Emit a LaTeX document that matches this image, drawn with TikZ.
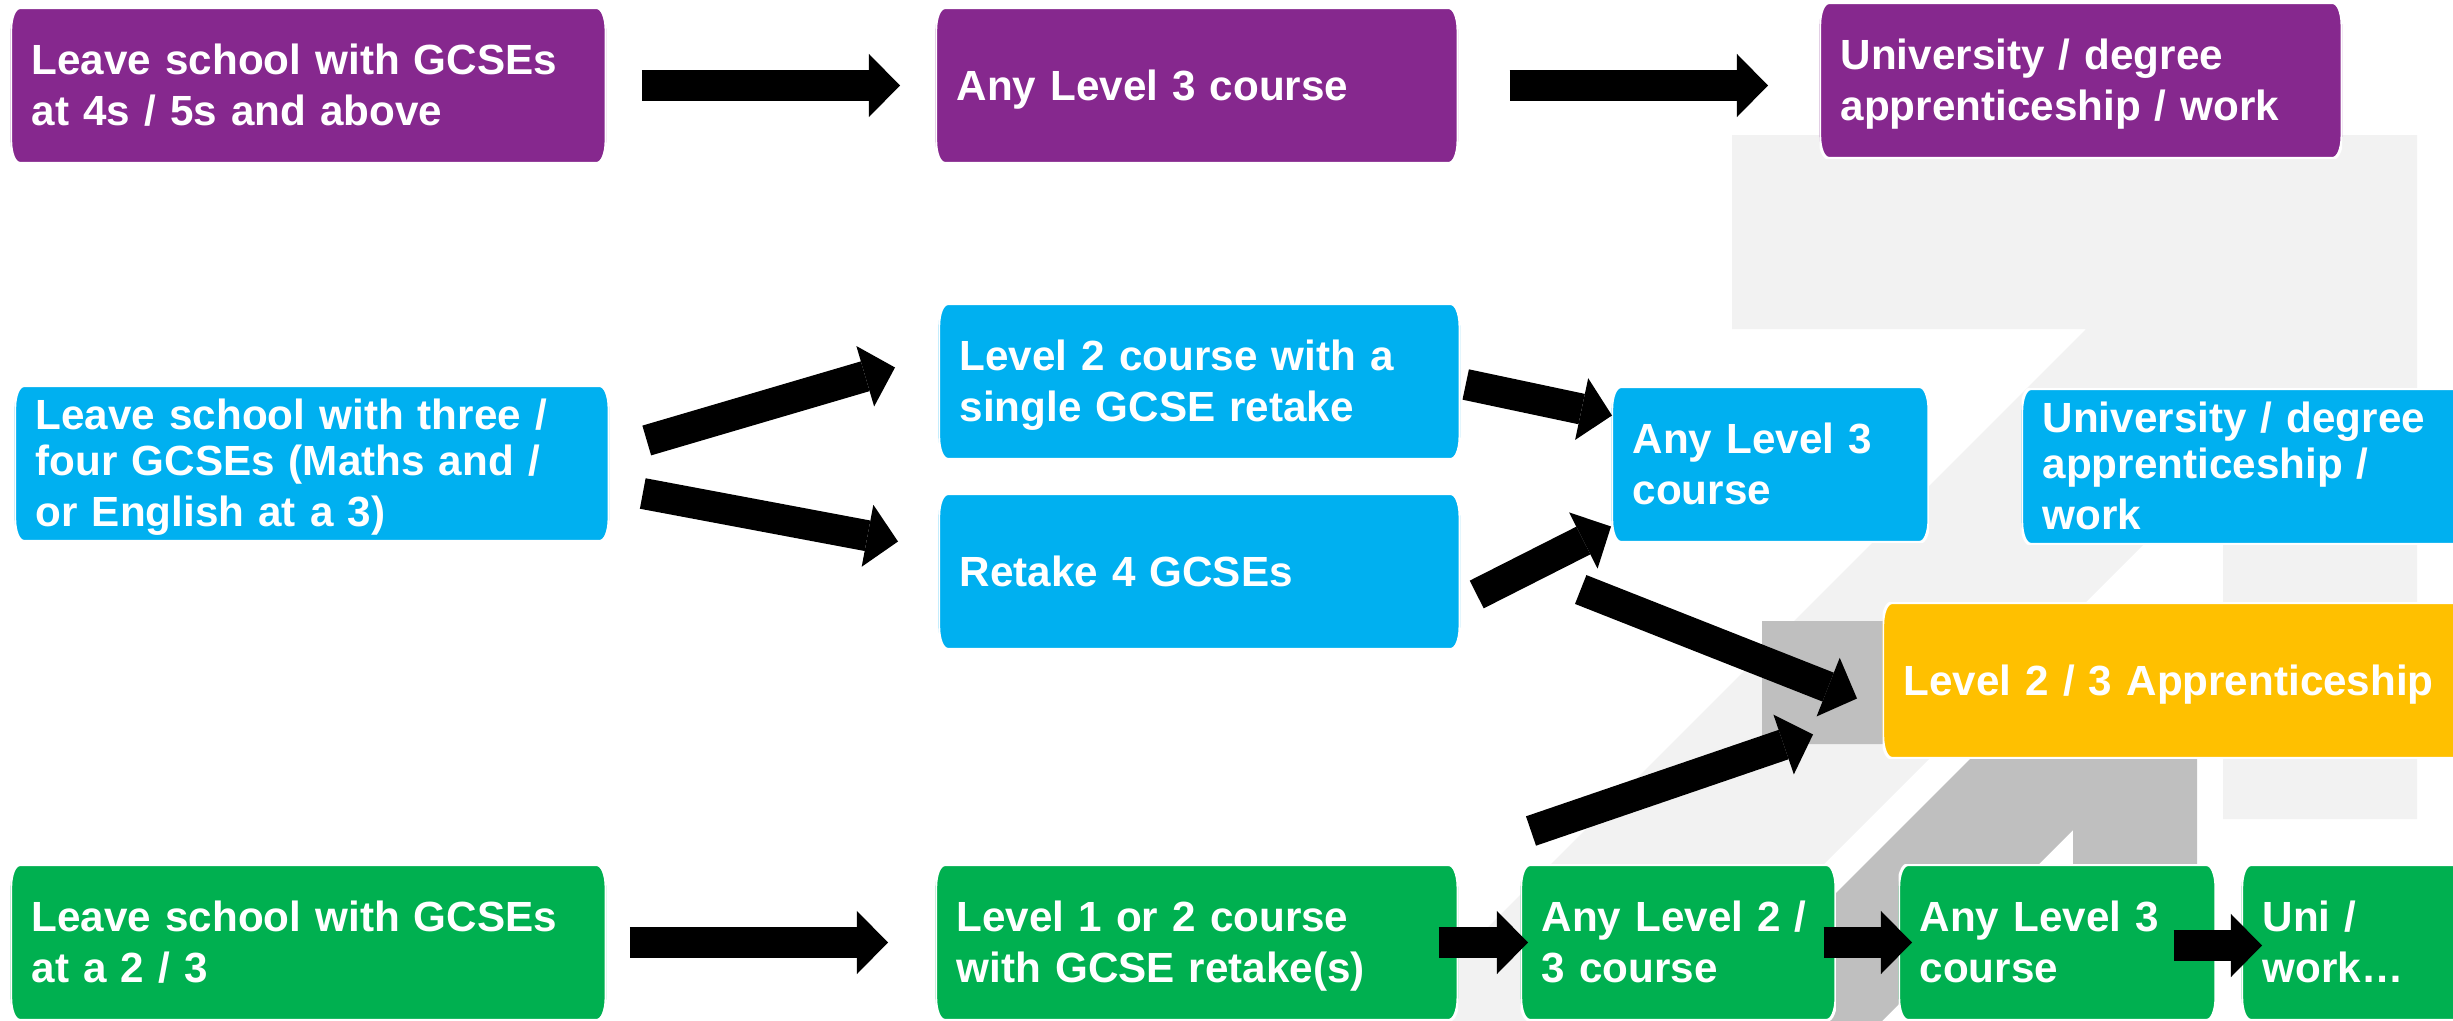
\documentclass[tikz,border=0pt]{standalone}
\usepackage{fontspec}
\setmainfont{Liberation Sans}
\usetikzlibrary{arrows.meta,calc}

\definecolor{purp}{HTML}{86288E}
\definecolor{sky}{HTML}{00B0F0}
\definecolor{amber}{HTML}{FFC000}
\definecolor{grass}{HTML}{00B050}
\definecolor{lgray}{HTML}{F2F2F2}
\definecolor{dgray}{HTML}{BFBFBF}

% strut with the ascent and descent of the font
\newcommand\ls{\rule[-0.212em]{0pt}{1.117em}}

\tikzset{
  box/.style={text=white, font=\bfseries\fontsize{12}{13.1}\selectfont, align=left,
    inner xsep=0.21cm, inner ysep=0pt, minimum height=1.555cm, anchor=north west,
    execute at begin node=\ls, execute at end node=\ls,
    path picture={
      \filldraw[#1, draw=white, line width=0.03cm]
        ([xshift=0.09cm]path picture bounding box.north west)
        -- ([xshift=-0.09cm]path picture bounding box.north east)
        arc[start angle=90, end angle=0, x radius=0.09cm, y radius=0.22cm]
        -- ([yshift=0.22cm]path picture bounding box.south east)
        arc[start angle=0, end angle=-90, x radius=0.09cm, y radius=0.22cm]
        -- ([xshift=0.09cm]path picture bounding box.south west)
        arc[start angle=270, end angle=180, x radius=0.09cm, y radius=0.22cm]
        -- ([yshift=-0.22cm]path picture bounding box.north west)
        arc[start angle=180, end angle=90, x radius=0.09cm, y radius=0.22cm]
        -- cycle;
    }},
  arr/.style={line width=0.31cm, -{Triangle[length=0.31cm, width=0.63cm, line width=0pt]}}
}

\begin{document}
\begin{tikzpicture}[x=0.01cm, y=-0.01cm]
  \useasboundingbox (0,0) rectangle (2453,1021);
  \clip (0,0) rectangle (2453,1021);

  % background logo shapes
  \fill[lgray] (1732,135) -- (2417,135) -- (2417,819) -- (2223,819) -- (2223,465)
    -- (1667,1021) -- (1394,1021) -- (2086,329) -- (1732,329) -- cycle;
  \fill[dgray] (1762,621) -- (2197,621) -- (2197,1021) -- (2073,1021) -- (2073,830)
    -- (1882,1021) -- (1708,1021) -- (1985,744) -- (1762,744) -- cycle;

  % top row
  \node[box=purp, text width=5.53cm] (p1) at (10,7) {Leave school with GCSEs\\at 4s / 5s and above};
  \node[box=purp, text width=4.80cm] (p2) at (935,7) {Any Level 3 course};
  \node[box=purp, text width=4.80cm] (p3) at (1819,2) {University / degree\\apprenticeship / work};

  % middle row
  \node[box=sky, text width=5.52cm] (b1) at (14,385) {Leave school with three /\\four GCSEs (Maths and /\\or English at a 3)};
  \node[box=sky, text width=4.79cm] (b2) at (938,303) {Level 2 course with a\\single GCSE retake};
  \node[box=sky, text width=4.79cm] (b3) at (938,493) {Retake 4 GCSEs};
  \node[box=sky, text width=2.75cm] (b4) at (1611,386) {Any Level 3\\course};
  \node[box=sky, text width=4.57cm] (b5) at (2021,388) {University / degree\\apprenticeship /\\work};
  \node[box=amber, text width=5.96cm] (y1) at (1882,602) {Level 2 / 3 Apprenticeship};

  % bottom row
  \node[box=grass, text width=5.53cm] (g1) at (10,864) {Leave school with GCSEs\\at a 2 / 3};
  \node[box=grass, text width=4.80cm] (g2) at (935,864) {Level 1 or 2 course\\with GCSE retake(s)};
  \node[box=grass, text width=2.73cm] (g3) at (1520,864) {Any Level 2 /\\3 course};
  \node[box=grass, text width=2.75cm] (g4) at (1898,864) {Any Level 3\\course};
  \node[box=grass, text width=2.37cm] (g5) at (2241,864) {Uni /\\work…};

  % arrows
  \draw[arr] ($(p1.east)+(35,0)$) -- ($(p2.west)+(-35,0)$);
  \draw[arr] ($(p2.east)+(51,0)$) -- ($(p2.east -| p3.west)+(-51,0)$);
  \draw[arr] ($(b1.east)+(37,-23)$) -- ($(b2.west)+(-43,-14)$);
  \draw[arr] ($(b1.east)+(33,30)$) -- ($(b3.west)+(-40,-30)$);
  \draw[arr] ($(b2.east)+(5,3)$) -- ($(b4.west)+(1,-49)$);
  \draw[arr] ($(b3.east)+(16,23)$) -- ($(b4.west)+(0,62)$);
  \draw[arr] ($(b3.east)+(120,18)$) -- ($(y1.west)+(-25,18)$);
  \draw[arr] ($(g3.north west)+(11,-33)$) -- ($(y1.west)+(-69,54)$);
  \draw[arr] ($(g1.east)+(23,0)$) -- ($(g2.west)+(-47,0)$);
  \draw[arr] ($(g2.east)+(-20,0)$) -- ($(g3.west)+(8,0)$);
  \draw[arr] ($(g3.east)+(-13,0)$) -- ($(g4.west)+(14,0)$);
  \draw[arr] ($(g4.east)+(-43,3)$) -- ($(g5.west)+(21,3)$);
\end{tikzpicture}
\end{document}
